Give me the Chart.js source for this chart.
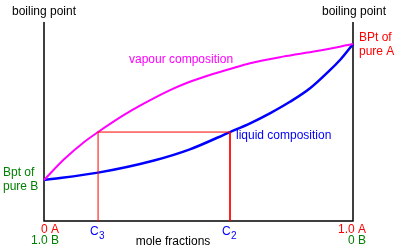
<!DOCTYPE html>
<html>
<head>
<meta charset="utf-8">
<script src="https://cdn.jsdelivr.net/npm/chart.js@4/dist/chart.umd.min.js"></script>
<style>
  html, body { margin: 0; padding: 0; background: #fff; }
  #wrap { width: 396px; height: 251px; }
</style>
</head>
<body>
<div id="wrap"><canvas id="bpChart" width="396" height="251"></canvas></div>
<script>
/* Boiling point / composition diagram (ideal mixture of A and B) */

// mole fraction of A along x, boiling point in arbitrary units along y
const liquidX = [0, 0.175, 0.356, 0.472, 0.602, 0.667, 0.731, 0.796, 0.861, 0.926, 0.958, 1];
const liquidY = [20.6, 24.3, 30.4, 36.0, 44.7, 49.1, 54.1, 59.9, 66.7, 75.9, 80.9, 88.9];
const vapourX = [0, 0.065, 0.129, 0.175, 0.259, 0.324, 0.408, 0.472, 0.537, 0.602, 0.667, 0.773, 0.883, 1];
const vapourY = [20.6, 31.0, 39.6, 44.7, 53.3, 59.1, 65.8, 70.0, 73.4, 76.4, 79.3, 82.6, 85.4, 88.9];

// tie line: boil liquid C3, condense vapour C2
const tieX = [0.175, 0.175, 0.602, 0.602];
const tieY = [0, 44.7, 44.7, 0];

const FONT = '12px "Liberation Sans", Arial, sans-serif';
const SUB_FONT = '10px "Liberation Sans", Arial, sans-serif';
const RED = '#ff0000', GREEN = '#008000', BLUE = '#0000ff', MAGENTA = '#ff00ff';

const toPts = (xs, ys) => xs.map((x, i) => ({ x, y: ys[i] }));

// axes lines + all the text labels
const diagramPlugin = {
  id: 'diagram',
  beforeDatasetsDraw(chart) {
    const { ctx, chartArea: a } = chart;
    ctx.save();
    ctx.strokeStyle = '#000';
    ctx.lineWidth = 1.5;
    ctx.beginPath();
    ctx.moveTo(a.left, a.top);
    ctx.lineTo(a.left, a.bottom);
    ctx.lineTo(a.right, a.bottom);
    ctx.lineTo(a.right, a.top);
    ctx.stroke();
    ctx.restore();
  },
  afterDraw(chart) {
    const { ctx, chartArea: a, scales } = chart;
    const yB = scales.y.getPixelForValue(liquidY[0]);
    const yA = scales.y.getPixelForValue(liquidY[liquidY.length - 1]);
    const xC3 = scales.x.getPixelForValue(tieX[0]);
    const xC2 = scales.x.getPixelForValue(tieX[2]);
    const txt = (s, x, y, color, align) => {
      ctx.fillStyle = color;
      ctx.textAlign = align || 'left';
      ctx.fillText(s, x, y);
    };
    ctx.save();
    ctx.font = FONT;
    ctx.textBaseline = 'middle';

    txt('boiling point', a.left, 12, '#000', 'center');
    txt('boiling point', a.right + 1, 12, '#000', 'center');

    txt('BPt of', a.right + 6, yA - 6, RED);
    txt('pure A', a.right + 6, yA + 8, RED);
    txt('Bpt of', 3, yB - 7, GREEN);
    txt('pure B', 3, yB + 7, GREEN);

    txt('vapour composition', 129, 60, MAGENTA);
    txt('liquid composition', 236, 136, BLUE);

    txt('0 A', a.left + 15, a.bottom + 9, RED, 'right');
    txt('1.0 B', a.left + 15, a.bottom + 20, GREEN, 'right');
    txt('1.0 A', a.right + 13, a.bottom + 9, RED, 'right');
    txt('0 B', a.right + 13, a.bottom + 20, GREEN, 'right');

    txt('mole fractions', 173, a.bottom + 21, '#000', 'center');

    // C3 and C2 with subscripts
    [[xC3, '3'], [xC2, '2']].forEach(([x, sub]) => {
      txt('C', x - 8, a.bottom + 11, BLUE);
      ctx.font = SUB_FONT;
      txt(sub, x + 1, a.bottom + 15, BLUE);
      ctx.font = FONT;
    });
    ctx.restore();
  }
};

new Chart(document.getElementById('bpChart'), {
  type: 'scatter',
  data: {
    datasets: [
      { data: toPts(tieX, tieY), showLine: true, borderColor: RED, borderWidth: 1,
        pointRadius: 0, tension: 0, clip: false },
      { data: toPts(vapourX, vapourY), showLine: true, borderColor: MAGENTA, borderWidth: 2,
        pointRadius: 0, cubicInterpolationMode: 'monotone', clip: false },
      { data: toPts(liquidX, liquidY), showLine: true, borderColor: BLUE, borderWidth: 2.5,
        pointRadius: 0, cubicInterpolationMode: 'monotone', clip: false }
    ]
  },
  options: {
    responsive: false,
    animation: false,
    layout: { padding: { left: 44, right: 43, top: 22, bottom: 30 } },
    plugins: { legend: { display: false }, tooltip: { enabled: false } },
    scales: {
      x: { type: 'linear', min: 0, max: 1, display: false },
      y: { type: 'linear', min: 0, max: 100, display: false }
    }
  },
  plugins: [diagramPlugin]
});
</script>
</body>
</html>
